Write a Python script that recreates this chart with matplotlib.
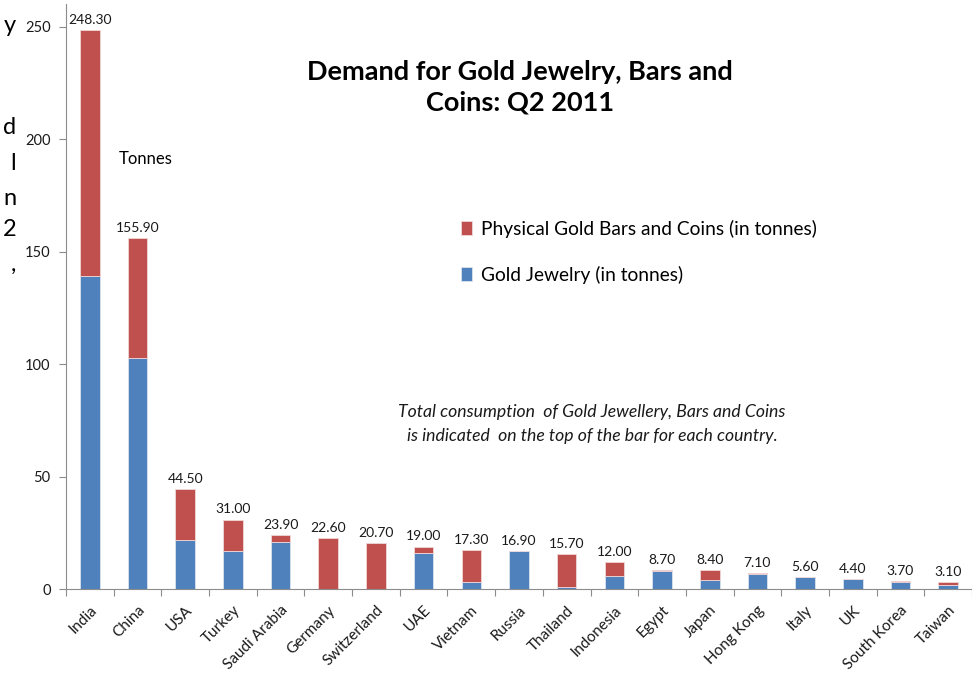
import matplotlib
matplotlib.use("Agg")
import matplotlib.pyplot as plt
import numpy as np

countries = ["India", "China", "USA", "Turkey", "Saudi Arabia", "Germany",
             "Switzerland", "UAE", "Vietnam", "Russia", "Thailand", "Indonesia",
             "Egypt", "Japan", "Hong Kong", "Italy", "UK", "South Korea", "Taiwan"]
totals = [248.3, 155.9, 44.5, 31.0, 23.9, 22.6, 20.7, 19.0, 17.3, 16.9,
          15.7, 12.0, 8.7, 8.4, 7.1, 5.6, 4.4, 3.7, 3.1]
jewelry = [139.2, 102.8, 21.7, 17.2, 21.1, 0.0, 0.0, 16.1, 3.1, 16.9,
           1.0, 6.1, 8.1, 4.1, 6.8, 5.6, 4.4, 3.1, 2.1]
bars_coins = [t - j for t, j in zip(totals, jewelry)]

yticks = [0, 50, 100, 150, 200, 250]
# cut-off characters from a neighbouring text box on the left edge
left_frag = ["y", "d", "l", "n", "2", ","]
left_frag_y = [25, 128, 163, 198, 230, 265]

blue = "#4F81BD"
red = "#C0504D"
plt.rcParams["font.family"] = ["Lato", "DejaVu Sans"]

W, H = 972, 673
fig = plt.figure(figsize=(W / 100, H / 100), dpi=100)
ax = fig.add_axes([66 / W, 1 - 589.3 / H, 1 - 66 / W, (589.3 - 4) / H])

x = np.arange(len(countries))
ax.bar(x, jewelry, width=0.41, color=blue, edgecolor="#dbe4f0", linewidth=0.6,
       label="Gold Jewelry (in tonnes)")
ax.bar(x, bars_coins, width=0.41, bottom=jewelry, color=red, edgecolor="#f0d8d8",
       linewidth=0.6, label="Physical Gold Bars and Coins (in tonnes)")

for xi, t in zip(x, totals):
    ax.annotate(f"{t:.2f}", (xi, t), xytext=(0, 3), textcoords="offset points",
                ha="center", va="bottom", fontsize=10, color="#1a1a1a")

ax.set_xlim(-0.5, (W - 66) / 48.2 - 0.5)
ax.set_ylim(0, 260)
ax.set_yticks(yticks)
ax.tick_params(axis="y", length=5, width=0.8, color="#8c8c8c", pad=6,
               labelsize=10.5, labelcolor="#1a1a1a")

ax.set_xticks(x)
ax.set_xticklabels(countries, rotation=45, ha="right", rotation_mode="anchor",
                   fontsize=11, color="#1a1a1a")
ax.tick_params(axis="x", which="major", length=0, pad=10)
ax.set_xticks(np.arange(len(countries) + 1) - 0.5, minor=True)
ax.tick_params(axis="x", which="minor", length=5, width=0.8, color="#8c8c8c")

for side in ["top", "right"]:
    ax.spines[side].set_visible(False)
for side in ["left", "bottom"]:
    ax.spines[side].set_color("#8c8c8c")
    ax.spines[side].set_linewidth(0.8)

fig.text(520 / W, 1 - 87 / H, "Demand for Gold Jewelry, Bars and\nCoins: Q2 2011",
         ha="center", va="center", fontsize=19.5, fontweight="bold",
         linespacing=1.3, color="black")
fig.text(119 / W, 1 - 159 / H, "Tonnes", ha="left", va="center", fontsize=12,
         color="black")

handles, labels = ax.get_legend_handles_labels()
ax.legend(handles[::-1], labels[::-1], loc="upper left",
          bbox_to_anchor=((453 - 66) / (W - 66), 1 - (212 - 4) / (589.3 - 4)),
          bbox_transform=ax.transAxes, frameon=False, fontsize=13.8,
          handlelength=0.6, handleheight=0.7, handletextpad=0.45,
          labelspacing=1.45, borderaxespad=0)

fig.text(592 / W, 1 - 424 / H,
         "Total consumption  of Gold Jewellery, Bars and Coins\n"
         "is indicated  on the top of the bar for each country.",
         ha="center", va="center", fontsize=12.7, style="italic",
         linespacing=1.6, color="#1a1a1a")

for ch, fy in zip(left_frag, left_frag_y):
    fig.text(16 / W, 1 - fy / H, ch, ha="right", va="center",
             fontsize=17, color="black")

fig.savefig("out.png", dpi=100)
